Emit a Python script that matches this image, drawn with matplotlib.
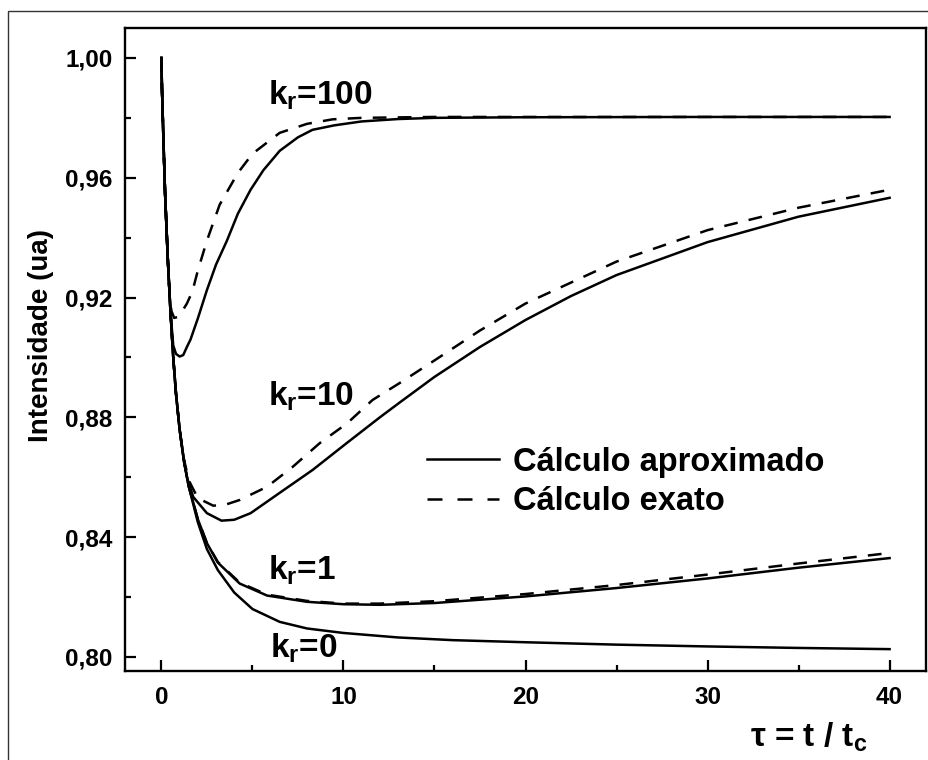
import matplotlib
matplotlib.use('Agg')
import matplotlib.pyplot as plt
from matplotlib.lines import Line2D
from matplotlib.patches import Rectangle
from matplotlib.ticker import MultipleLocator, FuncFormatter

plt.rcParams['font.family'] = ['Liberation Sans', 'DejaVu Sans']
plt.rcParams['font.weight'] = 'bold'
plt.rcParams['mathtext.fontset'] = 'custom'
plt.rcParams['mathtext.rm'] = 'Liberation Sans:bold'
plt.rcParams['mathtext.bf'] = 'Liberation Sans:bold'
plt.rcParams['mathtext.it'] = 'Liberation Sans:bold'

# --- DATA ---
# trecho inicial comum a todas as curvas
t_ini = [0, 0.03, 0.1, 0.2, 0.35, 0.5]
i_ini = [1.000, 0.990, 0.975, 0.955, 0.933, 0.915]

# k_r = 0 (aproximado = exato)
t_k0 = t_ini + [0.65, 0.8, 1.0, 1.25, 1.5, 2.0, 2.5, 3.1, 4.0, 5.0, 6.5, 8, 10, 13, 16, 20, 25, 30, 35, 40]
i_k0 = i_ini + [0.900, 0.888, 0.876, 0.865, 0.857, 0.845, 0.836, 0.829, 0.8215, 0.816, 0.8117,
                0.8095, 0.8080, 0.8065, 0.8056, 0.8049, 0.8041, 0.8035, 0.8030, 0.8026]

# k_r = 1
t_k1 = t_ini + [0.65, 0.8, 1.0, 1.25, 1.5, 2.0, 2.5, 3.1, 4.3, 5.8, 8, 10, 12, 15, 20, 25, 30, 35, 40]
i_k1_aprox = i_ini + [0.900, 0.888, 0.876, 0.865, 0.857, 0.846, 0.838, 0.8315, 0.8245, 0.8205, 0.8184,
                      0.8176, 0.8174, 0.8180, 0.8202, 0.8230, 0.8262, 0.8298, 0.8330]
i_k1_exato = i_ini + [0.900, 0.888, 0.876, 0.865, 0.857, 0.846, 0.838, 0.8317, 0.8248, 0.8208, 0.8187,
                      0.8178, 0.8178, 0.8186, 0.8210, 0.8240, 0.8275, 0.8312, 0.8347]

# k_r = 10
t_k10_aprox = t_ini + [0.65, 0.8, 1.0, 1.2, 1.4, 1.75, 2.5, 3.3, 4.0, 4.9, 6.5, 8.3, 10.2, 12, 13.1,
                       15, 17.5, 20, 22.5, 25, 30, 35, 40]
i_k10_aprox = i_ini + [0.900, 0.888, 0.876, 0.867, 0.860, 0.8534, 0.848, 0.8455, 0.8458, 0.848, 0.8548,
                       0.8624, 0.8715, 0.880, 0.885, 0.8935, 0.9035, 0.9125, 0.9205, 0.9275, 0.9385,
                       0.9470, 0.9533]
t_k10_exato = t_ini + [0.65, 0.8, 1.0, 1.2, 1.5, 2.0, 2.85, 3.5, 4.3, 5.8, 7.2, 8.7, 10.2, 11.6, 13.1,
                       15, 17.5, 20, 25, 30, 35, 40]
i_k10_exato = i_ini + [0.900, 0.888, 0.876, 0.867, 0.859, 0.853, 0.8505, 0.8508, 0.8524, 0.8568, 0.8634,
                       0.8714, 0.878, 0.8858, 0.8915, 0.899, 0.909, 0.918, 0.932, 0.9425, 0.950, 0.956]

# k_r = 100
t_k100_aprox = t_ini + [0.65, 0.8, 1.0, 1.2, 1.4, 1.6, 2.0, 2.5, 3.0, 3.6, 4.2, 4.9, 5.6, 6.5, 7.5, 8.3,
                        9.5, 11, 13, 15, 20, 30, 40]
i_k100_aprox = i_ini + [0.904, 0.9012, 0.9003, 0.9008, 0.9035, 0.906, 0.913, 0.9225, 0.931, 0.939, 0.948,
                        0.956, 0.9625, 0.969, 0.9735, 0.976, 0.9775, 0.9788, 0.9796, 0.980, 0.9802,
                        0.9803, 0.9803]
t_k100_exato = [0, 0.03, 0.1, 0.2, 0.35, 0.45, 0.55, 0.7, 0.9, 1.1, 1.4, 1.7, 2.0, 2.5, 3.2, 4.2, 5.0,
                6.5, 8.0, 9.4, 11, 15, 20, 30, 40]
i_k100_exato = [1.000, 0.990, 0.975, 0.955, 0.933, 0.921, 0.9155, 0.9132, 0.9135, 0.915, 0.918, 0.922,
                0.929, 0.939, 0.951, 0.9616, 0.968, 0.975, 0.978, 0.9795, 0.980, 0.9803, 0.9803,
                0.9803, 0.9803]

rotulos_k = ['k$_\\mathbf{r}$=100', 'k$_\\mathbf{r}$=10', 'k$_\\mathbf{r}$=1', 'k$_\\mathbf{r}$=0']
pos_rotulos = [(5.85, 0.9843), (5.87, 0.8838), (5.87, 0.8257), (5.95, 0.7997)]

# --- FIGURA ---
fig = plt.figure(figsize=(9.29, 7.60), dpi=100)
ax = fig.add_axes([125 / 929, 1 - 671 / 760, 801 / 929, 643 / 760])

# moldura externa
fig.add_artist(Rectangle((8 / 929, -0.5), 2, 1.5 - 11 / 760, transform=fig.transFigure,
                         fill=False, edgecolor='#333333', linewidth=1))

estilo_aprox = dict(color='black', linewidth=1.8, linestyle='-')
estilo_exato = dict(color='black', linewidth=1.8, linestyle=(0, (5.5, 4.5)))

ax.plot(t_k0, i_k0, **estilo_aprox)
ax.plot(t_k1, i_k1_exato, **estilo_exato)
ax.plot(t_k1, i_k1_aprox, **estilo_aprox)
ax.plot(t_k10_exato, i_k10_exato, **estilo_exato)
ax.plot(t_k10_aprox, i_k10_aprox, **estilo_aprox)
ax.plot(t_k100_exato, i_k100_exato, **estilo_exato)
ax.plot(t_k100_aprox, i_k100_aprox, **estilo_aprox)

for txt, (x, y) in zip(rotulos_k, pos_rotulos):
    ax.text(x, y, txt, fontsize=24, fontweight='bold', va='baseline', ha='left')

# --- EIXOS ---
ax.set_xlim(-2, 42)
ax.set_ylim(0.7953, 1.0100)
ax.xaxis.set_major_locator(MultipleLocator(10))
ax.xaxis.set_minor_locator(MultipleLocator(5))
ax.yaxis.set_major_locator(MultipleLocator(0.04))
ax.yaxis.set_minor_locator(MultipleLocator(0.02))
ax.yaxis.set_major_formatter(FuncFormatter(lambda v, p: f'{v:.2f}'.replace('.', ',')))
ax.tick_params(which='both', direction='in', width=1.6, labelsize=17.5)
ax.tick_params(which='major', length=8)
ax.tick_params(which='minor', length=4)
ax.tick_params(axis='y', pad=9)
ax.tick_params(axis='x', pad=11)
for s in ax.spines.values():
    s.set_linewidth(1.7)

ax.set_ylabel('Intensidade (ua)', fontsize=20, fontweight='bold')
ax.yaxis.set_label_coords(-0.089, 0.5225)
fig.text(750 / 929, 1 - 747 / 760, '\u03c4 = t / t$_\\mathbf{c}$', fontsize=24,
         fontweight='bold', ha='left', va='baseline')

# --- LEGENDA ---
handles = [Line2D([], [], **estilo_aprox),
           Line2D([], [], color='black', linewidth=1.8, linestyle=(0, (6, 6)))]
ax.legend(handles, ['Cálculo aproximado', 'Cálculo exato'], frameon=False, fontsize=23.5,
          loc='center left', bbox_to_anchor=(427 / 929, 1 - 482 / 760),
          bbox_transform=fig.transFigure, borderpad=0, borderaxespad=0,
          handlelength=2.2, handletextpad=0.45, labelspacing=0.25)

fig.savefig('out.png', dpi=100)
